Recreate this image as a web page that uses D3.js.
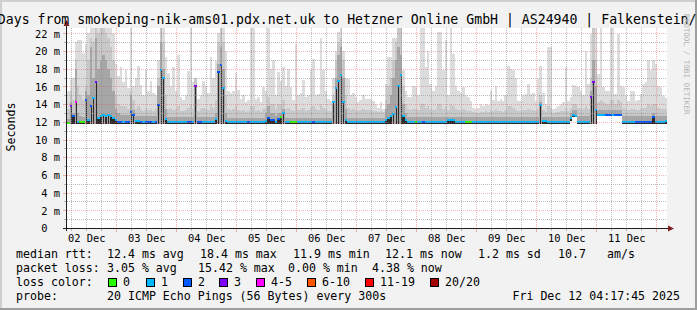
<!DOCTYPE html>
<html>
<head>
<meta charset="utf-8">
<script src="https://cdn.jsdelivr.net/npm/d3@7"></script>
<style>
body { margin: 0; background: #fff; }
svg text { font-family: "DejaVu Sans Mono", monospace; fill: #000; }
</style>
</head>
<body>
<script>
// hourly bins, 10 days back from the graph time
var startTime = Date.UTC(2025, 11, 2, 4, 17, 45);
var binMs = 3600e3;

// median rtt per hour (ms)
var median = [
  11.9,13.8,12.6,14.2,12.0,12.0,12.0,14.5,12.2,13.8,14.7,16.5,12.4,12.6,12.8,12.7,12.8,12.6,12.4,12.2,
  12.0,12.0,12.0,12.0,12.0,13.1,12.8,12.1,12.1,12.0,12.0,12.0,12.0,12.0,12.0,12.0,13.9,17.9,16.9,12.3,
  12.0,12.0,12.0,12.0,12.0,12.0,12.0,12.0,12.0,12.0,12.0,16.0,12.0,12.0,12.0,12.0,12.0,12.0,12.0,12.3,
  17.6,18.4,15.8,12.1,12.0,12.0,12.0,12.0,12.0,12.0,12.0,12.0,12.0,12.0,12.0,12.0,12.0,12.0,12.0,12.1,
  12.4,12.2,12.2,12.0,12.3,12.5,13.0,12.0,12.0,12.0,12.0,12.0,12.0,12.0,12.0,12.0,12.0,12.0,12.0,12.0,
  12.0,12.0,12.0,12.0,12.0,12.0,14.2,15.8,16.6,17.3,14.2,12.2,12.0,12.0,12.0,12.0,12.0,12.0,12.0,12.0,
  12.0,12.0,12.0,12.0,12.0,12.0,12.0,12.2,12.4,12.6,12.9,13.7,16.0,17.3,12.6,12.2,12.0,12.0,12.0,12.0,
  12.0,12.0,12.0,12.0,12.0,12.0,12.0,12.0,12.0,12.0,12.0,12.0,12.2,12.2,12.2,12.0,12.0,12.0,12.0,12.0,
  12.0,12.0,12.0,12.0,12.0,12.0,12.0,12.0,12.0,12.0,12.0,12.0,12.0,12.0,12.0,12.0,12.0,12.0,12.0,12.0,
  12.0,12.0,12.0,12.0,12.0,12.0,12.0,12.0,12.0,13.9,12.1,12.1,12.0,12.0,12.0,12.0,12.0,12.0,12.0,12.0,
  12.0,12.4,12.8,12.7,12.0,12.0,12.0,12.0,12.0,14.8,16.5,13.3,12.8,12.8,12.8,12.8,12.8,12.8,12.8,12.8,
  12.8,12.8,12.0,12.0,12.0,12.0,12.0,12.0,12.0,12.0,12.0,12.0,12.0,12.0,12.5,12.0,12.0,12.0,12.0,12.1
];

// lost pings (of 20) per hour
var loss = [
  0,3,2,4,1,0,0,2,1,2,1,3,1,1,1,1,1,1,1,1,
  2,2,1,2,2,2,2,1,1,2,1,2,2,2,1,2,2,1,1,1,
  1,1,1,1,1,1,1,1,2,2,1,3,2,2,1,1,1,1,1,1,
  2,2,1,1,1,1,1,1,1,1,1,1,2,1,1,1,1,1,1,1,
  2,2,2,1,2,0,1,1,1,0,0,0,1,1,1,1,1,1,2,1,
  1,1,1,1,1,1,1,1,1,1,1,1,1,1,1,1,1,1,1,1,
  1,1,1,1,1,1,1,1,1,1,1,1,1,1,1,1,1,1,1,0,
  1,1,2,1,1,1,1,1,1,1,1,1,1,1,1,1,1,1,1,0,
  0,0,1,1,1,1,1,1,1,1,1,1,1,1,1,1,1,1,1,1,
  1,1,1,1,1,1,1,1,1,1,1,1,1,1,1,1,1,1,1,1,
  1,1,1,1,1,1,1,1,1,3,3,1,1,1,1,2,2,2,1,2,
  2,2,1,1,1,1,1,2,2,2,2,2,2,2,2,1,1,1,1,1
];

// fastest ping per hour (ms)
var minRtt = [
  11.75,11.75,11.75,11.75,11.75,11.75,11.75,11.75,11.75,11.75,11.75,11.75,11.75,11.75,11.75,11.75,11.75,11.75,11.75,11.75,
  11.75,11.75,11.75,11.75,11.75,11.75,11.75,11.75,11.75,11.75,11.75,11.75,11.75,11.75,11.75,11.75,11.75,11.75,11.75,11.75,
  11.75,11.75,11.75,11.75,11.75,11.75,11.75,11.75,11.75,11.75,11.75,11.75,11.75,11.75,11.75,11.75,11.75,11.75,11.75,11.75,
  11.75,11.75,11.75,11.75,11.75,11.75,11.75,11.75,11.75,11.75,11.75,11.75,11.75,11.75,11.75,11.75,11.75,11.75,11.75,11.75,
  11.75,11.75,11.75,11.75,11.75,11.75,11.75,11.75,11.75,11.75,11.75,11.75,11.75,11.75,11.75,11.75,11.75,11.75,11.75,11.75,
  11.75,11.75,11.75,11.75,11.75,11.75,11.75,11.75,11.75,11.75,11.75,11.75,11.75,11.75,11.75,11.75,11.75,11.75,11.75,11.75,
  11.75,11.75,11.75,11.75,11.75,11.75,11.75,11.75,11.75,11.75,11.75,11.75,11.75,11.75,11.75,11.75,11.75,11.75,11.75,11.75,
  11.75,11.75,11.75,11.75,11.75,11.75,11.75,11.75,11.75,11.75,11.75,11.75,11.75,11.75,11.75,11.75,11.75,11.75,11.75,11.75,
  11.75,11.75,11.75,11.75,11.75,11.75,11.75,11.75,11.75,11.75,11.75,11.75,11.75,11.75,11.75,11.75,11.75,11.75,11.75,11.75,
  11.75,11.75,11.75,11.75,11.75,11.75,11.75,11.75,11.75,11.75,11.75,11.75,11.75,11.75,11.75,11.75,11.75,11.75,11.75,11.75,
  11.75,12.1,12.5,12.5,11.75,11.75,11.75,11.75,11.75,11.75,11.75,11.75,12.6,12.6,12.6,12.6,12.6,12.6,12.6,12.6,
  12.6,12.6,11.75,11.75,11.75,11.75,11.75,11.75,11.75,11.75,11.75,11.75,11.75,11.75,11.75,11.75,11.75,11.75,11.75,11.75
];

// dense part of the smoke (ms)
var midRtt = [
  12.3,14.2,13.0,18.0,13.0,12.6,12.5,15.5,15.0,20.5,17.0,21.5,18.0,19.0,19.5,19.0,18.0,17.0,15.5,13.5,
  13.0,12.8,12.8,12.8,12.8,15.0,13.3,12.6,12.6,12.6,12.6,12.6,12.6,12.6,12.6,12.6,16.0,21.0,18.0,13.5,
  12.5,12.5,12.5,12.5,12.5,12.5,12.5,12.5,12.5,12.5,12.5,16.2,12.5,12.5,12.5,12.5,12.5,12.5,12.5,13.0,
  18.5,20.5,18.0,13.0,12.4,12.4,12.4,12.4,12.4,12.4,12.4,12.4,12.4,12.4,12.4,12.4,12.4,12.4,12.4,13.0,
  13.8,13.0,13.0,12.6,13.0,13.0,13.5,12.4,12.4,12.4,12.4,12.4,12.4,12.4,12.4,12.4,12.4,12.4,12.4,12.4,
  12.4,12.4,12.4,12.4,12.4,12.4,14.0,17.0,19.5,20.5,17.0,13.5,12.4,12.4,12.4,12.4,12.4,12.4,12.4,12.4,
  12.4,12.4,12.4,12.4,12.4,12.4,12.4,13.5,14.0,15.0,17.0,19.0,20.5,19.5,14.0,13.0,12.5,12.5,12.5,12.5,
  12.5,12.5,12.5,12.5,12.5,12.5,12.5,12.5,12.5,12.5,12.5,12.5,12.5,12.5,12.5,12.5,12.5,12.5,12.5,12.5,
  12.5,12.5,12.5,12.5,12.5,12.5,12.5,12.5,12.5,12.5,12.5,12.5,12.5,12.5,12.5,12.5,12.5,12.5,12.5,12.5,
  12.5,12.5,12.5,12.5,12.5,12.5,12.5,12.5,12.5,14.2,12.5,12.5,12.5,12.5,12.5,12.5,12.5,12.5,12.5,12.5,
  12.5,13.0,13.3,13.3,12.6,12.6,12.6,12.6,12.6,15.5,19.0,16.0,13.3,13.3,13.3,13.3,13.3,13.3,13.3,13.3,
  13.3,13.3,12.6,12.6,12.6,12.6,12.6,12.6,12.6,12.6,12.6,12.6,12.6,12.6,13.0,12.6,12.6,12.6,12.6,12.6
];

// upper part of the smoke (ms)
var upperRtt = [
  13.5,15.5,14.5,19.0,16.0,15.0,14.5,16.0,19.0,21.5,21.0,22.6,22.0,22.6,22.6,22.0,21.5,20.5,19.0,15.0,
  14.0,13.8,13.8,13.8,13.5,15.5,14.5,13.5,13.8,13.5,13.2,13.6,13.3,13.5,13.2,13.4,17.0,22.6,21.0,15.0,
  13.4,13.6,13.3,13.5,13.8,13.2,13.2,13.3,13.6,14.0,13.5,17.0,13.2,13.4,13.6,13.5,13.3,14.0,13.6,14.5,
  21.0,22.6,21.0,15.0,13.4,13.3,13.4,13.8,13.3,13.2,13.3,13.1,13.2,13.8,13.8,13.2,13.3,13.1,13.5,13.6,
  14.8,14.0,14.0,13.5,14.0,14.0,14.5,13.4,13.6,13.3,13.2,14.0,13.3,13.4,13.6,13.2,13.3,13.6,13.8,13.4,
  13.3,14.0,13.6,13.4,13.2,13.2,15.0,19.0,21.0,21.5,19.0,15.0,13.6,13.3,13.4,13.3,13.2,13.3,13.4,13.3,
  13.3,13.3,13.2,13.2,13.1,13.2,13.1,14.5,16.0,17.0,19.0,21.0,22.6,22.6,16.0,14.0,13.4,13.3,13.5,13.4,
  13.3,14.0,14.0,13.6,13.8,13.4,13.3,13.4,14.0,14.0,13.5,13.8,13.3,14.0,13.8,13.4,13.3,13.2,13.4,13.3,
  13.2,13.2,13.1,13.0,13.0,13.1,13.1,13.2,13.1,13.3,13.2,13.4,13.2,13.2,13.1,13.3,13.8,13.8,13.6,13.3,
  13.2,13.2,13.3,13.3,13.5,13.3,13.3,13.2,13.5,15.0,13.3,13.1,13.8,13.6,13.0,13.1,13.1,13.2,13.2,13.6,
  13.2,13.6,14.0,14.0,13.6,13.5,13.4,13.8,13.5,17.0,22.6,19.0,14.2,14.5,14.2,14.0,14.0,14.5,14.5,14.0,
  14.5,14.2,13.6,13.5,13.3,13.5,13.5,13.3,13.3,13.4,13.6,13.6,14.0,13.8,14.0,14.0,13.6,13.5,13.4,13.4
];

// slowest ping per hour (ms)
var maxRtt = [
  15.5,17.0,17.0,21.0,21.2,21.2,19.8,20.8,22.0,22.6,22.6,22.6,22.6,22.6,22.6,22.6,22.6,22.6,22.0,18.5,
  17.2,18.2,16.5,17.9,15.8,22.6,16.0,17.0,18.3,16.2,15.0,17.8,15.5,16.6,15.2,15.0,19.0,22.6,22.6,19.3,
  17.5,16.0,18.2,15.5,19.5,14.8,14.5,15.0,17.7,22.6,16.5,17.0,14.6,15.0,16.6,16.0,15.3,19.3,17.0,18.9,
  22.0,22.6,22.6,20.0,15.5,15.3,15.5,17.5,15.6,14.6,15.0,14.2,14.5,22.6,22.6,14.6,14.8,14.2,15.9,15.5,
  22.6,18.0,19.0,15.0,17.6,16.6,18.2,16.0,18.0,15.9,14.5,20.8,15.0,15.3,16.7,14.8,15.0,17.8,19.1,15.0,
  15.1,21.5,17.8,15.5,14.6,14.4,17.0,20.0,22.1,22.6,20.0,17.0,16.8,15.0,15.2,14.8,14.2,14.5,15.0,14.6,
  14.6,14.6,14.3,14.0,13.6,14.2,13.4,16.3,19.3,19.3,21.5,21.5,22.6,22.6,17.8,15.5,14.8,14.8,16.0,15.9,
  15.0,22.6,22.6,18.2,20.0,16.3,15.5,16.0,22.1,22.1,17.8,21.2,15.0,22.6,19.7,16.0,15.5,15.3,15.9,15.0,
  14.8,14.4,13.6,13.4,13.6,14.0,13.8,14.0,13.9,15.5,14.5,16.0,14.4,14.6,14.3,15.0,18.3,18.0,17.8,17.0,
  14.4,14.4,15.0,15.1,16.3,15.1,15.3,14.4,16.8,18.3,15.2,14.0,20.4,20.4,13.5,13.6,13.8,14.0,14.2,18.2,
  14.4,14.8,16.2,16.0,15.9,15.5,15.0,20.0,16.3,21.9,22.6,22.6,17.4,22.6,15.9,15.5,15.5,22.6,22.6,15.1,
  21.9,16.0,15.9,15.0,14.4,15.5,15.5,14.4,14.5,15.1,16.3,16.5,19.0,17.8,19.0,18.5,16.0,15.9,14.9,14.7
];

var yTicks = [0, 2, 4, 6, 8, 10, 12, 14, 16, 18, 20, 22];
var lossLabels = ['0', '1', '2', '3', '4-5', '6-10', '11-19', '20/20'];
var lossLimits = [0, 1, 2, 3, 5, 10, 19, 20];
var lossColors = ['#26ff00', '#00b8ff', '#0059ff', '#7e00ff', '#ff00ff', '#ff5500', '#ff0000', '#a00000'];
var rttStats = ['12.4 ms avg', '18.4 ms max', '11.9 ms min', '12.1 ms now', '1.2 ms sd', '10.7', 'am/s'];
var lossStats = ['3.05 % avg', '15.42 % max', '0.00 % min', '4.38 % now'];

var W = 697, H = 310;
var pL = 67, pR = 667, pT = 28, pB = 228;
var axisFont = '10.4px', legendFont = '11.6px';
var gridCol = 'rgba(143,143,143,0.6)', mgridCol = 'rgba(222,79,79,0.42)';

var svg = d3.select('body').append('svg')
  .attr('width', W)
  .attr('height', H);

// frame
svg.append('rect').attr('width', W).attr('height', H).attr('fill', '#f2f2f2');
svg.append('path').attr('d', 'M1,' + H + 'V1H' + W).attr('fill', 'none')
  .attr('stroke', '#cfcfcf').attr('stroke-width', 2);
svg.append('path').attr('d', 'M0,' + (H - 1) + 'H' + (W - 1) + 'V0').attr('fill', 'none')
  .attr('stroke', '#9e9e9e').attr('stroke-width', 2);

svg.append('rect')
  .attr('x', pL).attr('y', pT)
  .attr('width', pR - pL).attr('height', pB - pT)
  .attr('fill', '#fff');

var x = d3.scaleUtc()
  .domain([new Date(startTime), new Date(startTime + median.length * binMs)])
  .range([pL, pR]);
var y = d3.scaleLinear()
  .domain([0, 22.6])
  .range([pB, pT]);

svg.append('clipPath').attr('id', 'plotclip')
  .append('rect').attr('x', pL).attr('y', pT)
  .attr('width', pR - pL).attr('height', pB - pT);

var bins = median.map(function(m, i) {
  return {
    t0: new Date(startTime + i * binMs),
    t1: new Date(startTime + (i + 1) * binMs),
    med: m, loss: loss[i], lo: minRtt[i],
    mid: midRtt[i], hi: upperRtt[i], top: maxRtt[i]
  };
});

function lossIndex(l) {
  for (var k = 0; k < lossLimits.length; k++) if (l <= lossLimits[k]) return k;
  return lossLimits.length - 1;
}
function bx(d) { return Math.round(x(d.t0)); }
function bw(d) { return Math.round(x(d.t1)) - Math.round(x(d.t0)); }

var plot = svg.append('g').attr('clip-path', 'url(#plotclip)')
  .attr('shape-rendering', 'crispEdges');

// smoke, from the outside in
function smoke(key, color) {
  plot.append('g').selectAll('rect')
    .data(bins)
    .enter()
    .append('rect')
    .attr('x', bx)
    .attr('width', bw)
    .attr('y', function(d) { return y(Math.max(d[key], d.lo)); })
    .attr('height', function(d) { return y(d.lo) - y(Math.max(d[key], d.lo)); })
    .attr('fill', color);
}
smoke('top', '#dcdcdc');
smoke('hi', '#c8c8c8');
smoke('mid', '#a6a6a6');

// darkest smoke: full bin near the floor, a thin stroke where the median jumps
plot.append('g').selectAll('rect')
  .data(bins)
  .enter()
  .append('rect')
  .attr('x', function(d) { return d.med - d.lo > 1 ? bx(d) + 1 : bx(d); })
  .attr('width', function(d) { return d.med - d.lo > 1 ? 1 : bw(d); })
  .attr('y', function(d) { return y(d.med); })
  .attr('height', function(d) { return y(d.lo) - y(d.med); })
  .attr('fill', '#2a2a2a');

// median, coloured by loss
plot.append('g').selectAll('rect')
  .data(bins)
  .enter()
  .append('rect')
  .attr('x', bx)
  .attr('width', bw)
  .attr('y', function(d) { return Math.round(y(d.med)) - 1; })
  .attr('height', 2)
  .attr('fill', function(d) { return lossColors[lossIndex(d.loss)]; });

// grid on top of the graph, rrdtool style
var grid = svg.append('g').attr('shape-rendering', 'crispEdges')
  .attr('stroke-dasharray', '1,1').attr('fill', 'none');
var minorY = d3.range(1, 23).filter(function(v) { return v % 2; });
var majorY = yTicks.filter(function(v) { return v > 0; });
var minorX = d3.utcHour.every(6).range(x.domain()[0], x.domain()[1])
  .filter(function(d) { return d.getUTCHours() !== 0; });
var majorX = d3.utcDay.range(x.domain()[0], x.domain()[1]);

function hLines(vals, col) {
  grid.append('g').selectAll('line').data(vals).enter().append('line')
    .attr('x1', pL).attr('x2', pR)
    .attr('y1', function(v) { return Math.round(y(v)) + 0.5; })
    .attr('y2', function(v) { return Math.round(y(v)) + 0.5; })
    .attr('stroke', col);
}
function vLines(vals, col) {
  grid.append('g').selectAll('line').data(vals).enter().append('line')
    .attr('y1', pT).attr('y2', pB)
    .attr('x1', function(d) { return Math.round(x(d)) + 0.5; })
    .attr('x2', function(d) { return Math.round(x(d)) + 0.5; })
    .attr('stroke', col);
}
hLines(minorY, gridCol);
vLines(minorX, gridCol);
hLines(majorY, mgridCol);
vLines(majorX, mgridCol);

// ticks outside the canvas
var ticks = svg.append('g').attr('shape-rendering', 'crispEdges');
ticks.selectAll('.ty').data(d3.range(0, 23)).enter().append('line')
  .attr('x1', function(v) { return v % 2 ? pL - 3 : pL - 4; }).attr('x2', pL)
  .attr('y1', function(v) { return Math.round(y(v)) + 0.5; })
  .attr('y2', function(v) { return Math.round(y(v)) + 0.5; })
  .attr('stroke', function(v) { return v % 2 ? gridCol : mgridCol; });
ticks.selectAll('.tx').data(minorX.concat(majorX)).enter().append('line')
  .attr('y1', pB).attr('y2', function(d) { return d.getUTCHours() ? pB + 3 : pB + 4; })
  .attr('x1', function(d) { return Math.round(x(d)) + 0.5; })
  .attr('x2', function(d) { return Math.round(x(d)) + 0.5; })
  .attr('stroke', function(d) { return d.getUTCHours() ? gridCol : mgridCol; });

// axes lines and arrows
svg.append('line').attr('x1', pL - 0.5).attr('x2', pL - 0.5)
  .attr('y1', pB + 3).attr('y2', pT - 4)
  .attr('stroke', '#1f1f1f');
svg.append('line').attr('x1', pL - 4).attr('x2', pR + 3)
  .attr('y1', pB + 0.5).attr('y2', pB + 0.5)
  .attr('stroke', '#1f1f1f');
svg.append('path')
  .attr('d', 'M' + (pL - 3.5) + ',' + (pT - 2) + 'L' + (pL - 0.5) + ',' + (pT - 8) + 'L' + (pL + 2.5) + ',' + (pT - 2) + 'Z')
  .attr('fill', '#801f1f');
svg.append('path')
  .attr('d', 'M' + (pR + 1) + ',' + (pB - 2.5) + 'L' + (pR + 7) + ',' + (pB + 0.5) + 'L' + (pR + 1) + ',' + (pB + 3.5) + 'Z')
  .attr('fill', '#801f1f');

// y labels
var yAxis = svg.append('g')
  .attr('transform', 'translate(60,0)')
  .call(d3.axisLeft(y).tickValues(yTicks).tickSize(0).tickPadding(0)
    .tickFormat(function(v) { return v === 0 ? '0' : v + ' m'; }));
yAxis.select('.domain').remove();
yAxis.selectAll('text')
  .attr('dy', '3.7px')
  .attr('x', function(v) { return v === 0 ? -12.5 : 0; })
  .style('font-size', axisFont)
  .style('font-family', '"DejaVu Sans Mono", monospace')
  .attr('fill', '#000');

// x labels, centred on noon
var noons = majorX.map(function(d) { return new Date(+d - 12 * 3600e3); })
  .concat([new Date(+majorX[majorX.length - 1] + 12 * 3600e3)])
  .filter(function(d) { return d >= x.domain()[0] && d <= x.domain()[1]; });
var xAxis = svg.append('g')
  .attr('transform', 'translate(0,241.5)')
  .call(d3.axisBottom(x).tickValues(noons).tickSize(0).tickPadding(0)
    .tickFormat(d3.utcFormat('%d %b')));
xAxis.select('.domain').remove();
xAxis.selectAll('text')
  .attr('y', 0).attr('dy', 0)
  .style('font-size', axisFont)
  .style('font-family', '"DejaVu Sans Mono", monospace')
  .attr('fill', '#000');

// title and side texts
svg.append('text')
  .attr('x', -26).attr('y', 23.5)
  .style('font-size', '13.2px')
  .text('10 Days from smokeping-nik-ams01.pdx.net.uk to Hetzner Online GmbH | AS24940 | Falkenstein/DE');

svg.append('text')
  .attr('transform', 'translate(14.5,127) rotate(-90)')
  .attr('text-anchor', 'middle')
  .style('font-size', legendFont)
  .text('Seconds');

svg.append('text')
  .attr('transform', 'translate(684,14) rotate(90)')
  .style('font-size', '7.6px')
  .style('fill', '#b4b4b4')
  .text('RRDTOOL / TOBI OETIKER');

// legend
var legend = svg.append('g').style('font-size', legendFont);
function legendText(tx, ty, s, anchor) {
  legend.append('text').attr('x', tx).attr('y', ty)
    .attr('text-anchor', anchor || 'start').text(s);
}
legendText(16, 258, 'median rtt:');
[107, 200, 293, 385, 478, 558, 607].forEach(function(px, i) { legendText(px, 258, rttStats[i]); });
legendText(16, 272, 'packet loss:');
[107, 198, 288, 372].forEach(function(px, i) { legendText(px, 272, lossStats[i]); });
legendText(16, 286, 'loss color:');
[108, 146, 183, 219, 256, 307, 365, 430].forEach(function(px, i) {
  legend.append('rect').attr('x', px + 0.5).attr('y', 278.5)
    .attr('width', 8).attr('height', 8)
    .attr('fill', lossColors[i]).attr('stroke', '#000').attr('stroke-width', 1);
  legendText(px + 15, 286, lossLabels[i]);
});
legendText(16, 300, 'probe:');
legendText(107, 300, '20 ICMP Echo Pings (56 Bytes) every 300s');
legendText(680, 300, 'Fri Dec 12 04:17:45 2025', 'end');
</script>
</body>
</html>
